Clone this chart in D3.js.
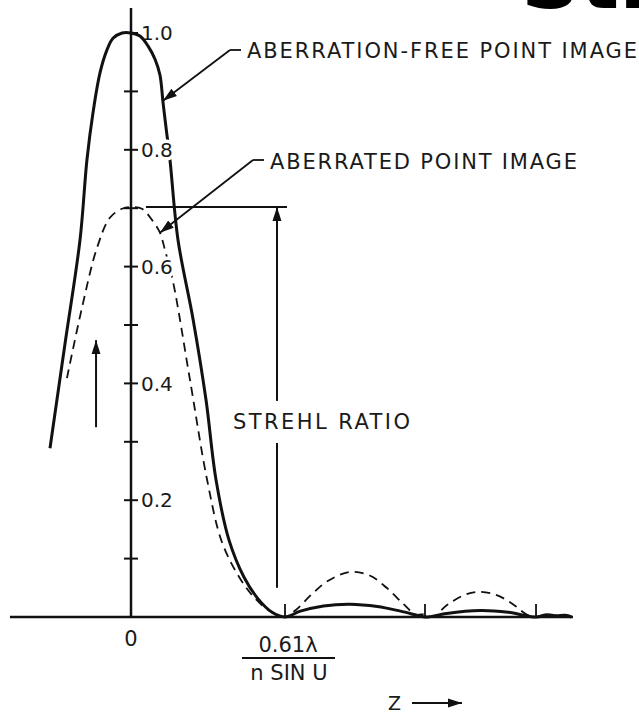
<!DOCTYPE html>
<html>
<head>
<meta charset="utf-8">
<script src="https://cdn.jsdelivr.net/npm/d3@7"></script>
<style>
  body { margin: 0; background: #fff; }
  svg { display: block; }
  text { font-family: "DejaVu Sans", sans-serif; fill: #1a1a1a; }
</style>
</head>
<body>
<div id="chart"></div>
<script>
// z in units of 0.61 lambda / (n sin U), intensity normalised to the perfect peak
const zFree = [-0.526, -0.429, -0.331, -0.286, -0.247, -0.201, -0.156, -0.117, -0.058, 0,
  0.058, 0.110, 0.156, 0.188, 0.208, 0.227, 0.253, 0.305, 0.403, 0.487, 0.552, 0.636, 0.734, 0.825, 0.916, 1.0,
  1.10, 1.25, 1.42, 1.60, 1.75, 1.909,
  1.93, 2.05, 2.27, 2.45, 2.63, 2.70, 2.76, 2.82, 2.86];
const iFree = [0.289, 0.467, 0.646, 0.783, 0.863, 0.932, 0.971, 0.991, 1.0, 1.0,
  0.995, 0.978, 0.955, 0.928, 0.881, 0.839, 0.783, 0.646, 0.510, 0.372, 0.235, 0.132, 0.068, 0.031, 0.008, 0,
  0.010, 0.019, 0.022, 0.018, 0.010, 0,
  0, 0.006, 0.011, 0.008, 0, 0.004, 0.002, 0.003, 0];

const zAbr = [-0.416, -0.318, -0.221, -0.136, -0.058, 0, 0.071, 0.136, 0.188, 0.221, 0.273, 0.383, 0.494,
  0.591, 0.708, 0.805, 0.903, 1.0,
  1.07, 1.17, 1.28, 1.42, 1.55, 1.66, 1.77, 1.85, 1.91, 1.96,
  2.05, 2.15, 2.25, 2.37, 2.48, 2.57, 2.63, 2.70, 2.80];
const iAbr = [0.409, 0.530, 0.632, 0.684, 0.699, 0.702, 0.699, 0.680, 0.658, 0.628, 0.574, 0.406, 0.235,
  0.128, 0.066, 0.032, 0.010, 0,
  0.012, 0.038, 0.062, 0.077, 0.071, 0.050, 0.022, 0.004, 0.005, 0,
  0.020, 0.036, 0.043, 0.038, 0.022, 0.004, 0, 0.004, 0];

const yTicks = [0.1, 0.2, 0.3, 0.4, 0.5, 0.6, 0.7, 0.8, 0.9, 1.0];
const yLabels = [0.2, 0.4, 0.6, 0.8, 1.0];
const zZeros = [1.0, 1.909, 2.63];
const zRange = [-0.786, 2.87];
const yTop = 1.043;

const width = 639, height = 716;

const x = d3.scaleLinear().domain([0, 1]).range([131, 285]);
const y = d3.scaleLinear().domain([0, 1]).range([617, 33]);

const svg = d3.select("#chart").append("svg")
    .attr("width", width)
    .attr("height", height);

const defs = svg.append("defs");
defs.append("marker")
    .attr("id", "head")
    .attr("markerUnits", "userSpaceOnUse")
    .attr("viewBox", "0 -5 14 10")
    .attr("refX", 14).attr("refY", 0)
    .attr("markerWidth", 14).attr("markerHeight", 10)
    .attr("orient", "auto")
  .append("path")
    .attr("d", "M0,-4.5L14,0L0,4.5Z")
    .attr("fill", "#111");

// big clipped title at the top right (cut by the page edge in the original)
svg.append("text")
    .attr("x", 521).attr("y", 8)
    .attr("font-family", "Liberation Sans, sans-serif")
    .attr("font-weight", "bold")
    .attr("font-size", "82px")
    .style("fill", "#000")
    .text("Str");

// axes
svg.append("line")
    .attr("x1", x(zRange[0])).attr("x2", x(zRange[1]))
    .attr("y1", y(0)).attr("y2", y(0))
    .attr("stroke", "#111").attr("stroke-width", 2.5);

svg.append("line")
    .attr("x1", x(0)).attr("x2", x(0))
    .attr("y1", y(0)).attr("y2", y(yTop))
    .attr("stroke", "#111").attr("stroke-width", 2.5);

svg.selectAll(".ytick")
  .data(yTicks)
  .join("line")
    .attr("class", "ytick")
    .attr("x1", x(0) - 7).attr("x2", x(0) + 7)
    .attr("y1", d => y(d)).attr("y2", d => y(d))
    .attr("stroke", "#111").attr("stroke-width", 2);

svg.selectAll(".xtick")
  .data(zZeros)
  .join("line")
    .attr("class", "xtick")
    .attr("x1", d => x(d)).attr("x2", d => x(d))
    .attr("y1", y(0)).attr("y2", y(0) - 13)
    .attr("stroke", "#111").attr("stroke-width", 1.8);

// curves
const line = d3.line()
    .x(d => x(d[0]))
    .y(d => y(d[1]))
    .curve(d3.curveCatmullRom.alpha(0.5));

svg.append("path")
    .datum(d3.zip(zAbr, iAbr))
    .attr("d", line)
    .attr("fill", "none")
    .attr("stroke", "#111")
    .attr("stroke-width", 1.8)
    .attr("stroke-dasharray", "9,6");

svg.append("path")
    .datum(d3.zip(zFree, iFree))
    .attr("d", line)
    .attr("fill", "none")
    .attr("stroke", "#111")
    .attr("stroke-width", 3);

// y labels, with a white halo that breaks the curves like the drawing
svg.selectAll(".ylab")
  .data(yLabels)
  .join("text")
    .attr("class", "ylab")
    .attr("x", x(0) + 10)
    .attr("y", d => y(d))
    .attr("dy", "0.36em")
    .attr("font-size", "20px")
    .attr("stroke", d => d < 1 ? "white" : "none")
    .attr("stroke-width", 7)
    .attr("paint-order", "stroke")
    .text(d => d.toFixed(1));

// strehl ratio marker
const peakAbr = d3.max(iAbr);
svg.append("line")
    .attr("x1", x(0.097)).attr("x2", x(1.013))
    .attr("y1", y(peakAbr)).attr("y2", y(peakAbr))
    .attr("stroke", "#111").attr("stroke-width", 2);

svg.append("line")
    .attr("x1", x(0.948)).attr("x2", x(0.948))
    .attr("y1", y(0.37)).attr("y2", y(peakAbr))
    .attr("stroke", "#111").attr("stroke-width", 2)
    .attr("marker-end", "url(#head)");

svg.append("line")
    .attr("x1", x(0.948)).attr("x2", x(0.948))
    .attr("y1", y(0.298)).attr("y2", y(0.05))
    .attr("stroke", "#111").attr("stroke-width", 2);

svg.append("text")
    .attr("x", 233).attr("y", 429)
    .attr("font-size", "21px")
    .attr("textLength", 177)
    .attr("lengthAdjust", "spacing")
    .text("STREHL RATIO");

// up arrow on the left
svg.append("line")
    .attr("x1", x(-0.227)).attr("x2", x(-0.227))
    .attr("y1", y(0.325)).attr("y2", y(0.474))
    .attr("stroke", "#111").attr("stroke-width", 2)
    .attr("marker-end", "url(#head)");

// callouts
const callouts = [
  {text: "ABERRATION-FREE POINT IMAGE", tx: 247, ty: 58, len: 390, knee: [230, 50], tip: [0.208, 0.884]},
  {text: "ABERRATED POINT IMAGE", tx: 270, ty: 169, len: 307, knee: [253, 160], tip: [0.188, 0.658]}
];

callouts.forEach(c => {
  svg.append("text")
      .attr("x", c.tx).attr("y", c.ty)
      .attr("font-size", "21px")
      .attr("textLength", c.len)
      .attr("lengthAdjust", "spacing")
      .text(c.text);
  svg.append("line")
      .attr("x1", c.knee[0]).attr("x2", c.knee[0] + 11)
      .attr("y1", c.knee[1]).attr("y2", c.knee[1])
      .attr("stroke", "#111").attr("stroke-width", 1.8);
  svg.append("line")
      .attr("x1", c.knee[0]).attr("y1", c.knee[1])
      .attr("x2", x(c.tip[0])).attr("y2", y(c.tip[1]))
      .attr("stroke", "#111").attr("stroke-width", 1.8)
      .attr("marker-end", "url(#head)");
});

// x labels
svg.append("text")
    .attr("x", x(0)).attr("y", 646)
    .attr("text-anchor", "middle")
    .attr("font-size", "21px")
    .text("0");

svg.append("text")
    .attr("x", x(1) + 3).attr("y", 652)
    .attr("text-anchor", "middle")
    .attr("font-size", "21px")
    .text("0.61λ");

svg.append("line")
    .attr("x1", x(1) - 43).attr("x2", x(1) + 50)
    .attr("y1", 658).attr("y2", 658)
    .attr("stroke", "#111").attr("stroke-width", 2);

svg.append("text")
    .attr("x", x(1) + 4).attr("y", 680)
    .attr("text-anchor", "middle")
    .attr("font-size", "21px")
    .text("n SIN U");

svg.append("text")
    .attr("x", 388).attr("y", 710)
    .attr("font-size", "19px")
    .text("Z");

svg.append("line")
    .attr("x1", 412).attr("x2", 462)
    .attr("y1", 703).attr("y2", 703)
    .attr("stroke", "#111").attr("stroke-width", 2.2)
    .attr("marker-end", "url(#head)");
</script>
</body>
</html>
